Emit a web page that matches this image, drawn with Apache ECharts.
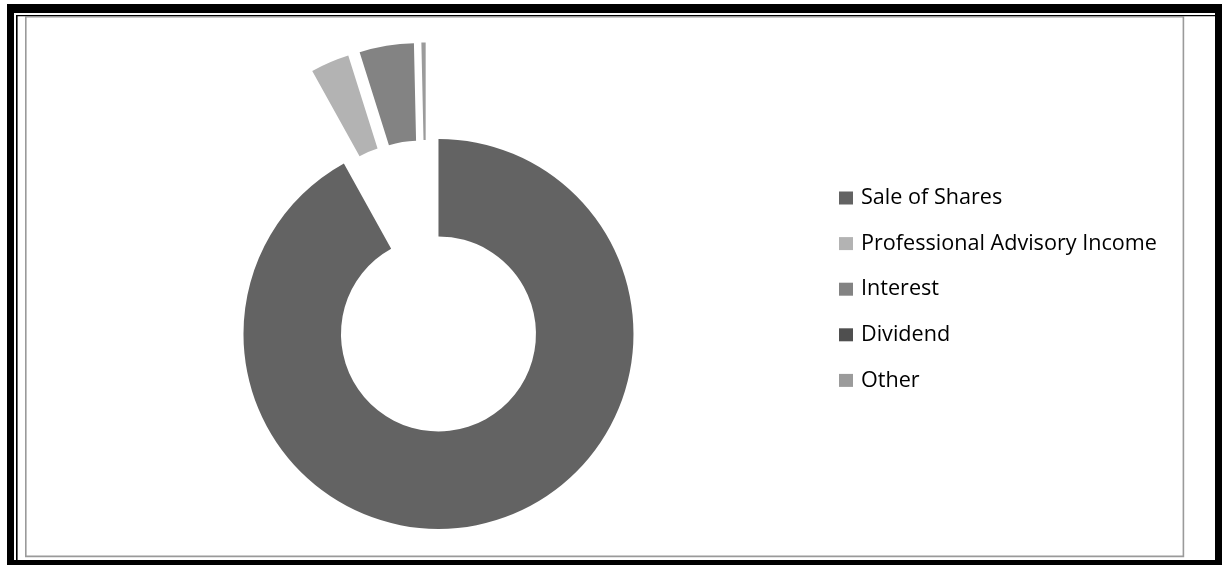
<!DOCTYPE html>
<html>
<head>
<meta charset="utf-8">
<script src="https://cdn.jsdelivr.net/npm/echarts@6/dist/echarts.min.js"></script>
<style>
html,body{margin:0;padding:0;background:#fff;}
#chart{width:1222px;height:565px;}
</style>
</head>
<body>
<div id="chart"></div>
<script>
// Data (share of income, %)
const categories = ['Sale of Shares', 'Professional Advisory Income', 'Interest', 'Dividend', 'Other'];
const values = [91.8, 3.2, 4.5, 0, 0.35];
const colors = ['#636363', '#b3b3b3', '#838383', '#4f4f4f', '#9b9b9b'];

const chart = echarts.init(document.getElementById('chart'), null, {renderer: 'canvas'});

// every point of the donut is exploded by the same amount
const data = categories.map((name, i) => ({
  name: name,
  value: values[i],
  selected: true,
  itemStyle: {color: colors[i]},
  select: {itemStyle: {color: colors[i]}}
}));

const option = {
  animation: false,
  backgroundColor: '#ffffff',
  legend: {
    orient: 'vertical',
    left: 839,
    top: 187,
    padding: 0,
    icon: 'rect',
    itemWidth: 14,
    itemHeight: 13,
    itemGap: 23.6,
    selectedMode: false,
    textStyle: {
      fontFamily: 'Open Sans',
      fontSize: 21.6,
      lineHeight: 21.6,
      color: '#000000',
      padding: [0, 0, 0, 3]
    },
    data: categories
  },
  graphic: [
    // outer thick black frame
    {type: 'rect', silent: true, shape: {x: 7, y: 4, width: 1215, height: 9}, style: {fill: '#000'}},
    {type: 'rect', silent: true, shape: {x: 7, y: 4, width: 7, height: 561}, style: {fill: '#000'}},
    {type: 'rect', silent: true, shape: {x: 1215, y: 4, width: 7, height: 561}, style: {fill: '#000'}},
    {type: 'rect', silent: true, shape: {x: 7, y: 560, width: 1215, height: 5}, style: {fill: '#000'}},
    // thin inner black lines
    {type: 'rect', silent: true, shape: {x: 16, y: 15, width: 1199, height: 1.2}, style: {fill: '#000'}},
    {type: 'rect', silent: true, shape: {x: 16, y: 15, width: 1.6, height: 545}, style: {fill: '#000'}},
    // gray chart area border
    {type: 'rect', silent: true, shape: {x: 25.8, y: 16.8, width: 1157.6, height: 539.6},
     style: {fill: null, stroke: '#9a9a9a', lineWidth: 1.6}}
  ],
  series: [{
    type: 'pie',
    center: [426.2, 286.5],
    radius: [97.5, 195],
    startAngle: 90,
    clockwise: true,
    selectedMode: 'multiple',
    selectedOffset: 49,
    avoidLabelOverlap: false,
    label: {show: false},
    labelLine: {show: false},
    emphasis: {disabled: true},
    itemStyle: {borderWidth: 0},
    data: data
  }]
};
chart.setOption(option);
</script>
</body>
</html>
